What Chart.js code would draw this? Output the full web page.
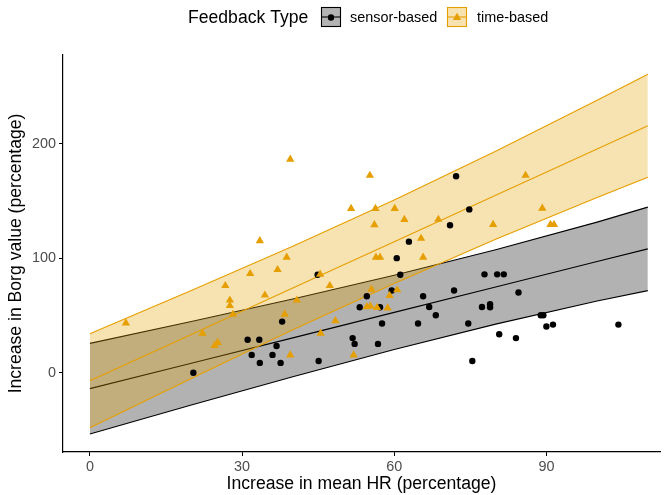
<!DOCTYPE html>
<html>
<head>
<meta charset="utf-8">
<script src="https://cdn.jsdelivr.net/npm/chart.js@4.4.1/dist/chart.umd.min.js"></script>
<style>
  body { margin: 0; background: #fff; }
  canvas { display: block; }
</style>
</head>
<body>
<canvas id="chart" width="665" height="495"></canvas>
<script>
const black = '#000000';
const orange = '#E69F00';
const greyFill = 'rgba(0,0,0,0.3)';
const orangeFill = 'rgba(230,159,0,0.3)';
const tickGrey = '#4D4D4D';
const fontFamily = '"Liberation Sans", Arial, sans-serif';

// sensor-based points
const sensorX = [20.4, 31.1, 33.4, 31.9, 33.5, 36.0, 36.8, 37.6, 37.9, 44.9, 45.1, 51.8, 52.2, 53.2, 54.6, 56.8,
  57.2, 57.6, 59.5, 60.5, 61.2, 62.9, 64.7, 65.7, 66.9, 68.2, 71.0, 71.8, 72.2, 74.8, 74.6, 75.4, 77.3, 77.8,
  78.9, 78.9, 80.3, 80.7, 81.6, 84.0, 84.5, 88.9, 89.4, 90.0, 91.3, 104.2];
const sensorY = [0, 28.8, 28.8, 15.6, 8.6, 15.6, 23.4, 8.6, 44.7, 85.7, 10.3, 30.3, 25.2, 57.3, 66.9, 25.2,
  57.3, 43.0, 71.9, 100.2, 85.7, 114.6, 43.0, 66.9, 57.5, 50.3, 128.9, 71.9, 171.8, 142.8, 43.0, 10.3, 57.5, 86.0,
  59.9, 57.3, 86.0, 33.6, 86.0, 30.3, 70.2, 50.3, 50.3, 40.4, 42.1, 42.1];

// time-based points
const timeX = [7.1, 22.2, 24.6, 25.2, 26.7, 27.6, 27.6, 28.2, 31.6, 33.5, 34.5, 37.0, 38.8, 38.4, 39.5, 39.5,
  40.8, 45.5, 45.4, 47.3, 48.4, 51.5, 52.0, 54.6, 55.3, 55.2, 55.5, 56.3, 56.1, 56.4, 57.2, 56.6, 58.7, 59.1,
  60.1, 60.6, 62.0, 65.3, 65.7, 68.7, 79.5, 85.9, 89.2, 90.8, 91.5];
const timeY = [43.4, 34.5, 23.7, 26.3, 76.1, 63.4, 58.6, 51.1, 86.6, 115.4, 67.8, 90.1, 100.9, 51.1, 15.5, 186.6,
  63.4, 34.5, 86.0, 76.1, 45.4, 143.6, 15.5, 57.7, 58.3, 172.5, 72.8, 143.6, 129.4, 100.9, 100.9, 57.0, 56.6, 67.5,
  143.6, 72.4, 133.9, 117.4, 100.9, 134.0, 129.6, 172.5, 143.7, 129.6, 129.6];

// fitted lines and bands
const bandX = [0, 20, 40, 60, 80, 100, 110];
const sensorFit = [-13.9, 8.3, 30.5, 52.8, 75.0, 97.2, 108.3];
const sensorUpper = [25.7, 44.8, 64.5, 85.3, 107.5, 131.7, 144.8];
const sensorLower = [-53.5, -28.2, -3.5, 20.3, 42.5, 62.7, 71.8];
const timeFit = [-7.0, 33.5, 74.0, 114.6, 155.2, 195.7, 216.0];
const timeUpper = [34.0, 72.0, 110.5, 151.1, 193.7, 238.2, 261.0];
const timeLower = [-48.0, -5.0, 37.5, 78.1, 116.7, 153.2, 171.0];

const xTicks = [0, 30, 60, 90];
const yTicks = [0, 100, 200];
const groups = ['sensor-based', 'time-based'];

const pts = (xs, ys) => xs.map((x, i) => ({ x: x, y: ys[i] }));

function bandLine(data, color, fill, order) {
  return {
    type: 'line', data: pts(bandX, data), borderColor: color, borderWidth: 1.1,
    pointRadius: 0, fill: fill ? '+1' : false, backgroundColor: fill || 'transparent',
    order: order, tension: 0
  };
}

// legend drawn at the top like ggplot's
const topLegend = {
  id: 'topLegend',
  afterDraw(chart) {
    const ctx = chart.ctx;
    ctx.save();
    ctx.textBaseline = 'middle';
    ctx.fillStyle = black;
    ctx.font = '17.6px ' + fontFamily;
    ctx.fillText('Feedback Type', 188, 18);
    const keys = [
      { x: 321, fill: '#B3B3B3', line: black, style: 'circle', r: 3.2, label: groups[0], lx: 350 },
      { x: 447, fill: '#F7E2B2', line: orange, style: 'triangle', r: 4.8, label: groups[1], lx: 477 }
    ];
    keys.forEach(k => {
      ctx.fillStyle = k.fill;
      ctx.fillRect(k.x, 7, 20, 20);
      ctx.strokeStyle = k.line;
      ctx.lineWidth = 1.1;
      ctx.strokeRect(k.x + 0.5, 7.5, 19, 19);
      ctx.beginPath();
      ctx.moveTo(k.x + 1, 17);
      ctx.lineTo(k.x + 19, 17);
      ctx.stroke();
      Chart.helpers.drawPoint(ctx, { pointStyle: k.style, radius: k.r, borderWidth: 0, rotation: 0 }, k.x + 10, 17.5);
      ctx.fillStyle = k.line;
      ctx.fill();
      ctx.fillStyle = black;
      ctx.font = '14.4px ' + fontFamily;
      ctx.fillText(k.label, k.lx, 18);
    });
    ctx.restore();
  }
};

new Chart(document.getElementById('chart').getContext('2d'), {
  type: 'scatter',
  data: {
    datasets: [
      bandLine(sensorUpper, black, greyFill, 10),
      bandLine(sensorLower, black, null, 9),
      bandLine(sensorFit, black, null, 8),
      bandLine(timeUpper, orange, orangeFill, 7),
      bandLine(timeLower, orange, null, 6),
      bandLine(timeFit, orange, null, 5),
      { label: groups[0], data: pts(sensorX, sensorY), pointStyle: 'circle', pointRadius: 3.2,
        backgroundColor: black, borderWidth: 0, order: 2 },
      { label: groups[1], data: pts(timeX, timeY), pointStyle: 'triangle', pointRadius: 4.8,
        backgroundColor: orange, borderWidth: 0, order: 1 }
    ]
  },
  options: {
    responsive: false, animation: false,
    layout: { padding: { top: 55, right: 5, left: 0, bottom: 0 } },
    plugins: { legend: { display: false }, tooltip: { enabled: false } },
    scales: {
      x: {
        type: 'linear', min: -5.3, max: 112.4,
        afterBuildTicks: s => { s.ticks = xTicks.map(v => ({ value: v })); },
        afterFit: s => { s.height = 43; },
        grid: { drawOnChartArea: false, color: black, tickLength: 4 },
        border: { color: black, width: 1.2 },
        ticks: { color: tickGrey, font: { size: 14.4, family: fontFamily }, padding: 2, maxRotation: 0 },
        title: { display: true, text: 'Increase in mean HR (percentage)', color: black,
          font: { size: 17.6, family: fontFamily }, padding: { top: 0, bottom: 0 } }
      },
      y: {
        type: 'linear', min: -69.3, max: 277.8,
        afterBuildTicks: s => { s.ticks = yTicks.map(v => ({ value: v })); },
        afterFit: s => { s.width = 63; },
        grid: { drawOnChartArea: false, color: black, tickLength: 4 },
        border: { color: black, width: 1.2 },
        ticks: { color: tickGrey, font: { size: 14.4, family: fontFamily }, padding: 3 },
        title: { display: true, text: 'Increase in Borg value (percentage)', color: black,
          font: { size: 17.6, family: fontFamily }, padding: { top: 6, bottom: 0 } }
      }
    }
  },
  plugins: [topLegend]
});
</script>
</body>
</html>
